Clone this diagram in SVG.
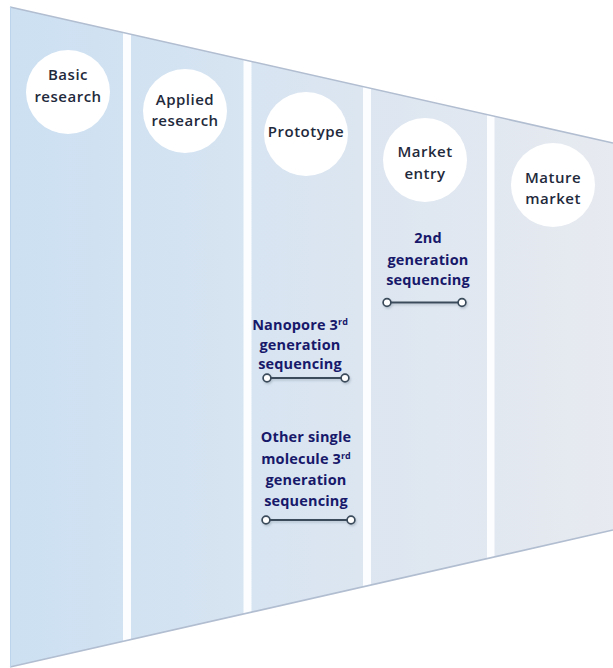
<svg xmlns="http://www.w3.org/2000/svg" width="613" height="668" viewBox="0 0 613 668">
  <defs>
    <style>
      .stage-circle { fill: #ffffff; }
      .stage-label { font-family: "Open Sans", "Liberation Sans", sans-serif; font-weight: 600; font-size: 15px; fill: #1f2a3c; text-anchor: middle; letter-spacing: 0.5px; }
      .tech-label { font-family: "Open Sans", "Liberation Sans", sans-serif; font-weight: 700; font-size: 14.5px; fill: #17186a; text-anchor: middle; letter-spacing: 0.15px; }
      .sup { font-size: 9px; letter-spacing: 0; }
      .range { stroke: #3a4b5b; stroke-width: 2; fill: none; marker-start: url(#dot); marker-end: url(#dot); }
      .edge { stroke: #b1bdd0; stroke-width: 1.6; fill: none; }
      .gap { fill: #fbfdff; }
    </style>
    <linearGradient id="funnelFill" gradientUnits="userSpaceOnUse" x1="10" y1="0" x2="613" y2="0">
      <stop offset="0" stop-color="#cce0f2"/>
      <stop offset="0.5" stop-color="#dae5f1"/>
      <stop offset="1" stop-color="#e7eaf0"/>
    </linearGradient>
    <clipPath id="funnelClip">
      <polygon points="10,7 613,143 613,530 10,667"/>
    </clipPath>
    <marker id="dot" viewBox="-6 -6 12 12" markerWidth="12" markerHeight="12" markerUnits="userSpaceOnUse" refX="0" refY="0" orient="auto">
      <circle r="3.9" fill="#ffffff" stroke="#3a4b5b" stroke-width="1.7"/>
    </marker>
    <filter id="shade" filterUnits="userSpaceOnUse" x="0" y="0" width="613" height="668">
      <feDropShadow dx="1" dy="1.5" stdDeviation="1" flood-color="#8090a0" flood-opacity="0.45"/>
    </filter>
  </defs>

  <rect width="613" height="668" fill="#ffffff"/>

  <!-- funnel body with stage columns -->
  <g id="funnel">
    <polygon points="10,7 613,143 613,530 10,667" fill="url(#funnelFill)"/>
    <g clip-path="url(#funnelClip)">
      <rect class="gap" x="123" y="0" width="8" height="668"/>
      <rect class="gap" x="243.5" y="0" width="8" height="668"/>
      <rect class="gap" x="363" y="0" width="8" height="668"/>
      <rect class="gap" x="487" y="0" width="7.5" height="668"/>
    </g>
    <line class="edge" x1="10" y1="7" x2="613" y2="143"/>
    <line class="edge" x1="10" y1="667" x2="613" y2="530"/>
    <line x1="10.5" y1="7" x2="10.5" y2="667" stroke="#bcd4ec" stroke-width="1"/>
  </g>

  <!-- stage nodes -->
  <g id="stage-basic-research">
    <circle class="stage-circle" cx="68" cy="92" r="42"/>
    <text class="stage-label" x="68" y="80">Basic</text>
    <text class="stage-label" x="68" y="102">research</text>
  </g>
  <g id="stage-applied-research">
    <circle class="stage-circle" cx="185" cy="111" r="42"/>
    <text class="stage-label" x="185" y="105">Applied</text>
    <text class="stage-label" x="185" y="126">research</text>
  </g>
  <g id="stage-prototype">
    <circle class="stage-circle" cx="306" cy="134" r="42"/>
    <text class="stage-label" x="306" y="137">Prototype</text>
  </g>
  <g id="stage-market-entry">
    <circle class="stage-circle" cx="425" cy="160" r="42"/>
    <text class="stage-label" x="425" y="157">Market</text>
    <text class="stage-label" x="425" y="179">entry</text>
  </g>
  <g id="stage-mature-market">
    <circle class="stage-circle" cx="553" cy="185" r="42"/>
    <text class="stage-label" x="553" y="183">Mature</text>
    <text class="stage-label" x="553" y="204">market</text>
  </g>

  <!-- technology nodes -->
  <g id="tech-second-generation">
    <text class="tech-label" x="428" y="243">2nd</text>
    <text class="tech-label" x="428" y="265">generation</text>
    <text class="tech-label" x="428" y="285">sequencing</text>
  </g>
  <g id="tech-nanopore">
    <text class="tech-label" x="300" y="330">Nanopore 3<tspan class="sup" dy="-5">rd</tspan></text>
    <text class="tech-label" x="300" y="350">generation</text>
    <text class="tech-label" x="300" y="369">sequencing</text>
  </g>
  <g id="tech-other-single-molecule">
    <text class="tech-label" x="306" y="442">Other single</text>
    <text class="tech-label" x="306" y="464">molecule 3<tspan class="sup" dy="-5">rd</tspan></text>
    <text class="tech-label" x="306" y="485">generation</text>
    <text class="tech-label" x="306" y="506">sequencing</text>
  </g>

  <!-- stage ranges -->
  <g id="connectors" filter="url(#shade)">
    <line class="range" x1="387" y1="302.5" x2="462" y2="302.5"/>
    <line class="range" x1="267" y1="378" x2="345" y2="378"/>
    <line class="range" x1="266" y1="520" x2="351" y2="520"/>
  </g>
</svg>
